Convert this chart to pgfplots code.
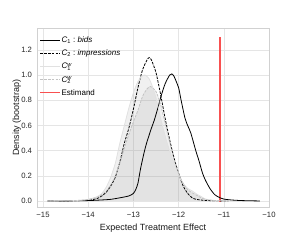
\documentclass[border=0pt]{standalone}
\usepackage{fontspec}
\setmainfont{Liberation Sans}
\usepackage{pgfplots}
\pgfplotsset{compat=1.18}
\usepackage{pgfplotstable}
\definecolor{estred}{RGB}{248,80,80}
\definecolor{lightw}{RGB}{225,225,225}
\definecolor{midw}{RGB}{195,195,195}

\pgfplotstableread{
x y
-14.9 0
-14.4 0.001
-14.1 0.004
-13.95 0.008
-13.8 0.02
-13.7 0.04
-13.6 0.07
-13.5 0.12
-13.4 0.19
-13.3 0.31
-13.2 0.46
-13.1 0.58
-13.0 0.73
-12.9 0.90
-12.8 1.04
-12.7 1.12
-12.65 1.14
-12.6 1.12
-12.5 1.02
-12.4 0.85
-12.3 0.66
-12.2 0.49
-12.1 0.34
-12.0 0.22
-11.9 0.12
-11.8 0.06
-11.7 0.025
-11.6 0.012
-11.4 0.004
-11.1 0.001
-10.9 0
}\Ctwo

\pgfplotstableread{
x y
-14.9 0
-14.3 0.001
-14.0 0.003
-13.7 0.008
-13.5 0.013
-13.3 0.025
-13.1 0.04
-13.0 0.06
-12.95 0.09
-12.9 0.14
-12.84 0.26
-12.76 0.39
-12.7 0.47
-12.6 0.58
-12.54 0.64
-12.45 0.75
-12.4 0.82
-12.3 0.93
-12.2 1.0
-12.15 1.01
-12.1 0.99
-12.0 0.90
-11.95 0.81
-11.86 0.66
-11.8 0.60
-11.73 0.54
-11.62 0.40
-11.55 0.32
-11.47 0.22
-11.4 0.16
-11.3 0.095
-11.2 0.05
-11.1 0.028
-11.0 0.015
-10.84 0.008
-10.6 0.003
-10.2 0
}\Cone

\pgfplotstableread{
x y
-14.9 0
-14.3 0.003
-14.0 0.012
-13.8 0.035
-13.7 0.06
-13.6 0.11
-13.5 0.19
-13.4 0.30
-13.3 0.46
-13.2 0.60
-13.1 0.74
-13.0 0.86
-12.9 0.95
-12.8 0.995
-12.73 1.0
-12.65 0.97
-12.6 0.93
-12.5 0.82
-12.4 0.66
-12.3 0.52
-12.2 0.40
-12.1 0.30
-12.0 0.21
-11.9 0.14
-11.8 0.10
-11.7 0.08
-11.6 0.055
-11.5 0.035
-11.4 0.015
-11.2 0.004
-10.9 0
}\Conew

\pgfplotstableread{
x y
-14.9 0
-14.3 0.003
-14.0 0.012
-13.8 0.03
-13.7 0.05
-13.6 0.08
-13.5 0.13
-13.4 0.20
-13.3 0.30
-13.2 0.42
-13.1 0.53
-13.0 0.63
-12.9 0.72
-12.8 0.83
-12.7 0.89
-12.62 0.91
-12.5 0.87
-12.4 0.77
-12.3 0.62
-12.2 0.47
-12.1 0.33
-12.0 0.22
-11.9 0.14
-11.8 0.09
-11.7 0.065
-11.6 0.045
-11.5 0.025
-11.4 0.012
-11.2 0.003
-10.9 0
}\Ctwow

\pgfplotstableread{
x y
-11.109 0
-11.109 1.3
-11.091 1.3
-11.091 0
}\Est

\begin{document}
\begin{tikzpicture}
\path (0,0) rectangle (300bp,240bp);
\begin{axis}[
  at={(37bp,33bp)}, anchor=south west,
  scale only axis, width=232bp, height=179bp,
  xmin=-15.133, xmax=-10, ymin=-0.048, ymax=1.375,
  xtick={-15,-14,-13,-12,-11,-10},
  xticklabels={−15,−14,−13,−12,−11,−10},
  ytick={0,0.2,0.4,0.6,0.8,1.0,1.2},
  yticklabels={0.0,0.2,0.4,0.6,0.8,1.0,1.2},
  major tick length=0pt,
  grid=major,
  grid style={color=black!10, line width=0.6bp},
  axis line style={black!18, line width=0.7bp},
  tick label style={font=\fontsize{7.7bp}{9bp}\selectfont, text=black!85},
  xticklabel style={yshift=-2bp},
  yticklabel style={xshift=-1.5bp},
  xlabel={Expected Treatment Effect},
  ylabel={Density (bootstrap)},
  label style={font=\fontsize{9bp}{10.8bp}\selectfont, text=black!90},
  xlabel style={at={(axis description cs:0.5,-0.092)}, anchor=north, inner sep=0pt},
  ylabel style={at={(axis description cs:-0.068,0.5)}, anchor=south, inner sep=0pt},
  legend style={draw=none, fill=none, inner sep=0pt, at={(0.012,0.965)}, anchor=north west,
    font=\fontsize{8bp}{9.5bp}\selectfont, row sep=2bp,
    nodes={inner sep=0.6bp, text height=7.5bp, text depth=2.5bp}},
  legend cell align=left,
  legend image code/.code={\draw[#1] (0bp,0bp) -- (20bp,0bp);},
]
% fills
\addplot[draw=none, fill=black!45, fill opacity=0.13, forget plot, smooth, tension=0.4] table {\Conew} \closedcycle;
\addplot[draw=none, fill=black!45, fill opacity=0.13, forget plot, smooth, tension=0.4] table {\Ctwow} \closedcycle;
% estimand: thin filled strip
\addplot[draw=estred, fill=estred, line width=0.2bp, forget plot] table {\Est} -- cycle;
% lines
\addplot[black, line width=0.8bp, smooth, tension=0.4] table {\Cone};
\addlegendentry{\textit{C}\textsubscript{1}\ :\ \textit{bids}}
\addplot[black, line width=0.8bp, dash pattern=on 2.6bp off 1.2bp, smooth, tension=0.4] table {\Ctwo};
\addlegendentry{\textit{C}\textsubscript{2}\ :\ \textit{impressions}}
\addplot[lightw, line width=0.8bp, smooth, tension=0.4] table {\Conew};
\addlegendentry{\textit{C}\rlap{\textsuperscript{\textit{w}}}\textsubscript{1}}
\addplot[midw, line width=0.8bp, dash pattern=on 2.6bp off 1.2bp, smooth, tension=0.4] table {\Ctwow};
\addlegendentry{\textit{C}\rlap{\textsuperscript{\textit{w}}}\textsubscript{2}}
\addlegendimage{draw=estred, line width=1bp}
\addlegendentry{Estimand}
\end{axis}
\end{tikzpicture}
\end{document}
